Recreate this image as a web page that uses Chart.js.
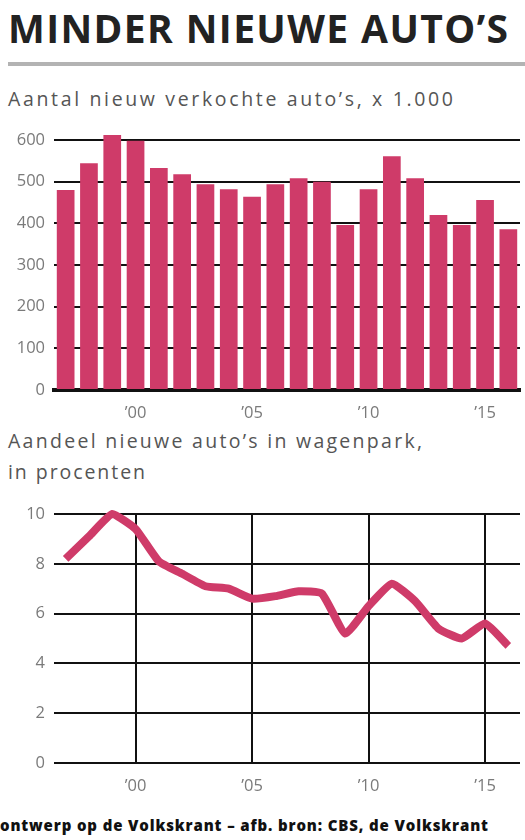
<!DOCTYPE html>
<html>
<head>
<meta charset="utf-8">
<script src="https://cdn.jsdelivr.net/npm/chart.js@4.4.1/dist/chart.umd.min.js"></script>
<style>
  html, body { margin:0; padding:0; background:#fff; }
  body { width:525px; height:840px; position:relative; overflow:hidden; font-family:"Open Sans", sans-serif; }
  .t { position:absolute; white-space:nowrap; display:inline-block; }
  #title { left:8px; top:4px; font-size:39px; line-height:48px; font-weight:700; color:#222; }
  #rule { position:absolute; left:8px; right:0; top:62px; height:4px; background:#b3b3b3; }
  #sub1 { left:8px; top:86px; font-size:19.5px; line-height:26px; color:#555; }
  #sub2 { left:8px; top:428px; font-size:19.5px; line-height:26px; color:#555; }
  #sub3 { left:8px; top:459px; font-size:19.5px; line-height:26px; color:#555; }
  #foot { left:0px; top:815px; font-size:15px; line-height:20px; font-weight:800; color:#111; }
  .cw { position:absolute; left:0; width:525px; }
  #c1w { top:120px; height:300px; }
  #c2w { top:495px; height:305px; }
</style>
</head>
<body>
<div class="t" id="title" data-w="500">MINDER NIEUWE AUTO’S</div>
<div id="rule"></div>
<div class="t" id="sub1" data-w="445">Aantal nieuw verkochte auto’s, x 1.000</div>
<div class="t" id="sub2" data-w="414">Aandeel nieuwe auto’s in wagenpark,</div>
<div class="t" id="sub3" data-w="137">in procenten</div>
<div class="t" id="foot" data-w="488">ontwerp op de Volkskrant – afb. bron: CBS, de Volkskrant</div>
<div class="cw" id="c1w"><canvas id="c1"></canvas></div>
<div class="cw" id="c2w"><canvas id="c2"></canvas></div>
<script>
// ---- data ----
const years = [1997,1998,1999,2000,2001,2002,2003,2004,2005,2006,2007,2008,2009,2010,2011,2012,2013,2014,2015,2016];
const sales = [480,544,612,598,533,518,494,482,464,494,508,500,396,482,561,508,420,396,456,386];
const share = [8.2,9.1,10.0,9.4,8.1,7.6,7.1,7.0,6.6,6.7,6.9,6.8,5.2,6.3,7.2,6.5,5.4,5.0,5.6,4.7];
const xTickYears = [2000,2005,2010,2015];
const salesTicks = [0,100,200,300,400,500,600];
const shareTicks = [0,2,4,6,8,10];

// fit text widths
document.querySelectorAll('.t').forEach(el => {
  const target = +el.dataset.w;
  const w = el.getBoundingClientRect().width;
  const n = el.textContent.length;
  el.style.letterSpacing = ((target - w) / (n - 1)) + 'px';
});

const red = '#cf3b69';
const tickFont = { family: '"Open Sans", sans-serif', size: 16.5 };
const tickColor = '#7a7a7a';
const yearLabel = (i) => xTickYears.includes(years[i]) ? '’' + String(years[i]).slice(2) : '';

Chart.defaults.animation = false;
Chart.defaults.responsive = true;
Chart.defaults.maintainAspectRatio = false;

new Chart(document.getElementById('c1'), {
  type: 'bar',
  data: { labels: years, datasets: [{ data: sales, backgroundColor: red, borderWidth: 0, barPercentage: 0.76, categoryPercentage: 1, clip: false }] },
  options: {
    layout: { padding: { top: 20, right: 5, left: 0, bottom: 0 } },
    plugins: { legend: { display: false }, tooltip: { enabled: false } },
    scales: {
      x: {
        z: 1,
        grid: { display: false },
        border: { display: true, color: '#111', width: 4 },
        ticks: { autoSkip: false, maxRotation: 0, padding: 5, color: tickColor, font: tickFont, callback: (v, i) => yearLabel(i) },
        afterFit: s => { s.height = 30; }
      },
      y: {
        min: 0, max: 600,
        afterBuildTicks: s => { s.ticks = salesTicks.map(v => ({ value: v })); },
        grid: { color: '#111', lineWidth: 2, drawTicks: false },
        border: { display: false },
        ticks: { padding: 9, color: tickColor, font: tickFont },
        afterFit: s => { s.width = 54; }
      }
    }
  }
});

new Chart(document.getElementById('c2'), {
  type: 'line',
  data: { labels: years, datasets: [{ data: share, borderColor: red, borderWidth: 8, pointRadius: 0, tension: 0.15, borderJoinStyle: 'round', borderCapStyle: 'butt', clip: false, fill: false }] },
  options: {
    layout: { padding: { top: 19, right: 5, left: 0, bottom: 0 } },
    plugins: { legend: { display: false }, tooltip: { enabled: false } },
    scales: {
      x: {
        offset: true,
        grid: { offset: false, drawTicks: false, lineWidth: 2, color: c => xTickYears.includes(years[c.index]) ? '#111' : 'rgba(0,0,0,0)' },
        border: { display: false },
        ticks: { autoSkip: false, maxRotation: 0, padding: 13, color: tickColor, font: tickFont, callback: (v, i) => yearLabel(i) },
        afterFit: s => { s.height = 37; }
      },
      y: {
        min: 0, max: 10,
        afterBuildTicks: s => { s.ticks = shareTicks.map(v => ({ value: v })); },
        grid: { color: '#111', lineWidth: 2, drawTicks: false },
        border: { display: false },
        ticks: { padding: 9, color: tickColor, font: tickFont },
        afterFit: s => { s.width = 54; }
      }
    }
  }
});
</script>
</body>
</html>
